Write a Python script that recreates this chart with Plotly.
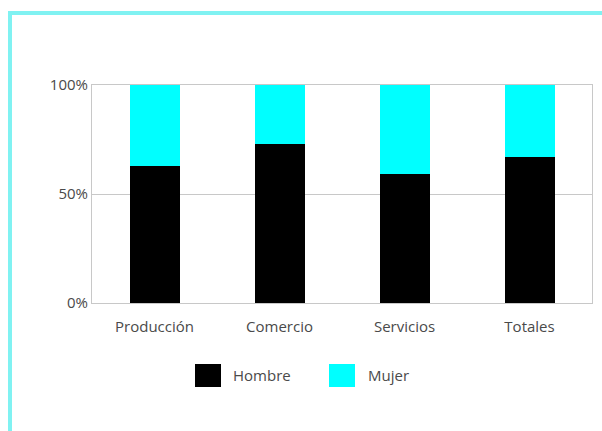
import plotly.graph_objects as go

categories = ["Producción", "Comercio", "Servicios", "Totales"]
hombre = [63, 73, 59, 67]
mujer = [37, 27, 41, 33]
series_names = ["Hombre", "Mujer"]
series_colors = ["#000000", "#00FFFF"]
y_ticks = [0, 50, 100]
y_tick_labels = ["0%", "50%", "100%"]

FONT = "Open Sans"
TXT = "#4A4A4A"
FS = 15
W, H = 602, 431
L, R, T, B = 92, 10, 85, 128
pw, ph = W - L - R, H - T - B


def px_x(x):
    return (x - L) / pw


def px_y(y):
    return (H - B - y) / ph


fig = go.Figure()
for name, vals, col in zip(series_names, [hombre, mujer], series_colors):
    fig.add_trace(go.Bar(x=categories, y=vals, name=name, marker_color=col,
                         marker_line_width=0, showlegend=False))

shapes = [
    # frame lines in cyan
    dict(type="line", xref="paper", yref="paper", x0=px_x(8), x1=px_x(602),
         y0=px_y(13), y1=px_y(13), line=dict(color="#80F2F2", width=4)),
    dict(type="line", xref="paper", yref="paper", x0=px_x(10), x1=px_x(10),
         y0=px_y(11), y1=px_y(431), line=dict(color="#80F2F2", width=4)),
]
annotations = []
# legend swatches and labels
legend_items = [(195, 231), (329, 366)]
for (sx, tx), name, col in zip(legend_items, series_names, series_colors):
    shapes.append(dict(type="rect", xref="paper", yref="paper",
                       x0=px_x(sx), x1=px_x(sx + 26), y0=px_y(364), y1=px_y(387),
                       fillcolor=col, line=dict(width=0)))
    annotations.append(dict(xref="paper", yref="paper", x=px_x(tx), y=px_y(375),
                            text=name, showarrow=False, xanchor="left", yanchor="middle",
                            font=dict(family=FONT, size=FS, color=TXT)))

fig.update_layout(
    width=W, height=H,
    margin=dict(l=L, r=R, t=T, b=B),
    barmode="stack", bargap=0.6,
    paper_bgcolor="white", plot_bgcolor="white",
    shapes=shapes, annotations=annotations,
    font=dict(family=FONT, size=FS, color=TXT),
    xaxis=dict(showline=True, linecolor="#C8C8C8", linewidth=1, mirror=True,
               ticks="outside", ticklen=10, tickcolor="rgba(0,0,0,0)",
               tickfont=dict(family=FONT, size=FS, color=TXT),
               showgrid=False),
    yaxis=dict(range=[0, 100], tickvals=y_ticks, ticktext=y_tick_labels,
               showline=True, linecolor="#C8C8C8", linewidth=1, mirror=True,
               showgrid=True, gridcolor="#C8C8C8", ticks="", ticklabelstandoff=0,
               tickfont=dict(family=FONT, size=FS, color=TXT), zeroline=False),
)

fig.write_html("out.html")
